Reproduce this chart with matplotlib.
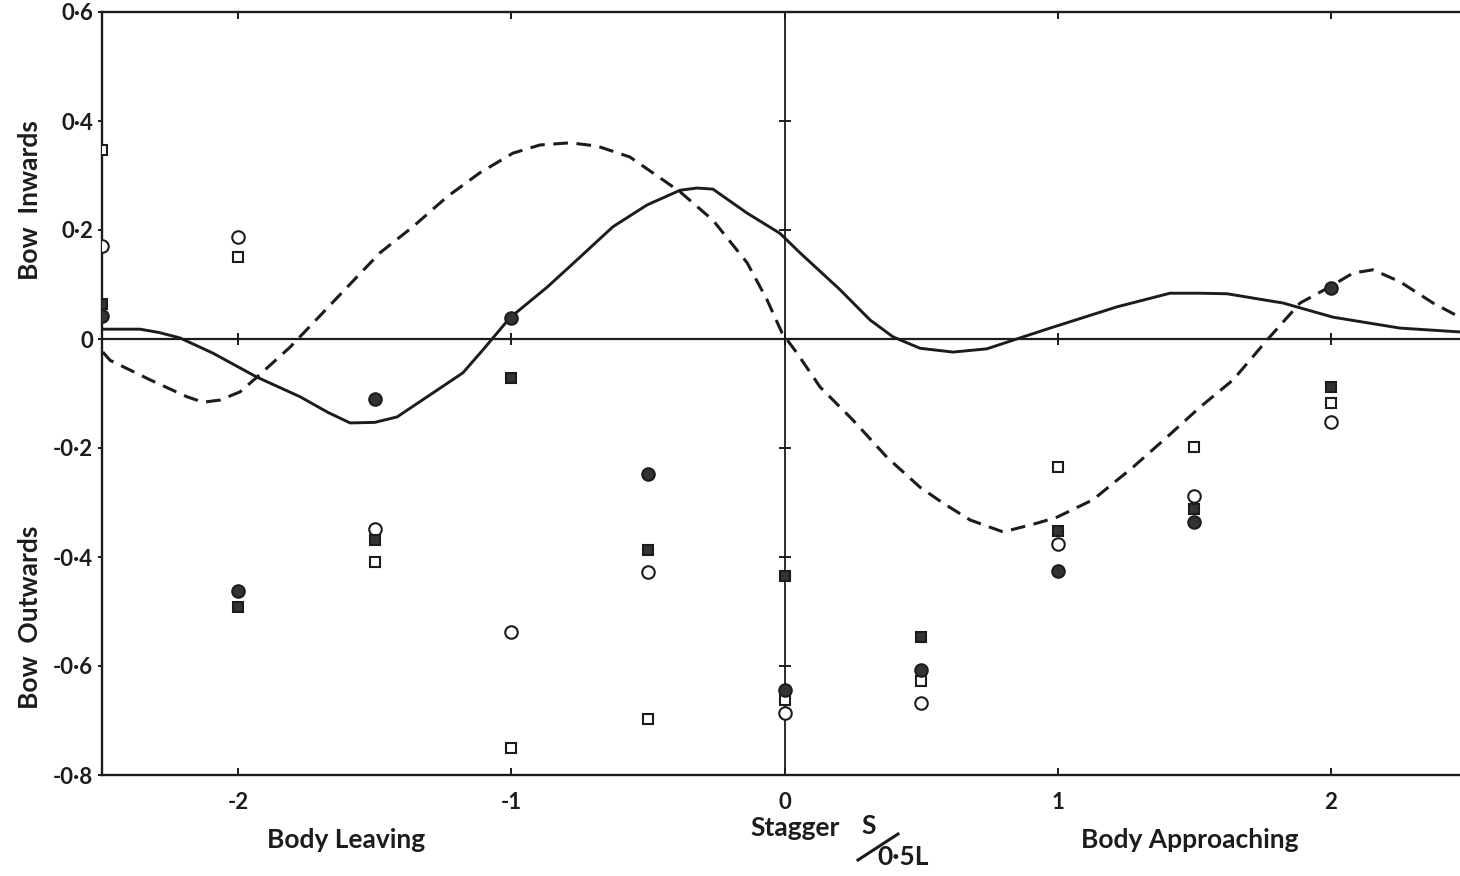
import matplotlib.pyplot as plt
import numpy as np
from matplotlib.lines import Line2D

plt.rcParams["font.family"] = ["Lato", "DejaVu Sans"]

# stagger positions S/0.5L where the measurements were taken
stagger = [-2.5, -2.0, -1.5, -1.0, -0.5, 0.0, 0.5, 1.0, 1.5, 2.0]

# measured points, one list per symbol
open_circle = [0.171, 0.187, -0.349, -0.538, -0.428, -0.686, -0.668, -0.376, -0.288, -0.152]
open_square = [0.347, 0.150, -0.409, -0.750, -0.697, -0.662, -0.628, -0.235, -0.198, -0.117]
full_circle = [0.042, -0.462, -0.110, 0.039, -0.248, -0.644, -0.607, -0.426, -0.336, 0.094]
full_square = [0.064, -0.492, -0.369, -0.072, -0.387, -0.435, -0.547, -0.352, -0.312, -0.088]

# theory curve (solid)
solid_x = [-2.495, -2.359, -2.290, -2.213, -2.092, -1.931, -1.773, -1.670, -1.590,
           -1.500, -1.418, -1.287, -1.177, -1.104, -1.005, -0.869, -0.749, -0.628,
           -0.503, -0.382, -0.320, -0.262, -0.137, -0.017, 0.057, 0.200, 0.313,
           0.397, 0.496, 0.617, 0.741, 0.862, 0.972, 1.217, 1.411, 1.521, 1.620,
           1.825, 2.008, 2.253, 2.472]
solid_y = [0.018, 0.018, 0.012, 0.002, -0.026, -0.070, -0.106, -0.135, -0.154,
           -0.153, -0.143, -0.099, -0.062, -0.020, 0.039, 0.095, 0.150, 0.206,
           0.246, 0.273, 0.277, 0.275, 0.231, 0.194, 0.158, 0.092, 0.035,
           0.004, -0.017, -0.024, -0.018, 0.002, 0.020, 0.059, 0.084, 0.084, 0.083,
           0.066, 0.040, 0.020, 0.013]

# theory curve (dashed)
dash_x = [-2.495, -2.469, -2.322, -2.187, -2.128, -2.066, -1.993, -1.931, -1.810,
          -1.726, -1.601, -1.481, -1.360, -1.235, -1.115, -0.994, -0.895, -0.785,
          -0.686, -0.566, -0.445, -0.382, -0.262, -0.137, -0.064, -0.009, 0.046,
          0.130, 0.251, 0.375, 0.496, 0.580, 0.679, 0.800, 0.924, 0.997, 1.129,
          1.276, 1.400, 1.521, 1.642, 1.766, 1.887, 1.990, 2.081, 2.154, 2.253,
          2.374, 2.472]
dash_y = [-0.024, -0.039, -0.075, -0.106, -0.116, -0.112, -0.097, -0.070, -0.015,
          0.029, 0.095, 0.158, 0.206, 0.261, 0.305, 0.341, 0.356, 0.360,
          0.354, 0.334, 0.292, 0.270, 0.218, 0.140, 0.072, 0.011, -0.026,
          -0.088, -0.149, -0.217, -0.272, -0.301, -0.332, -0.354, -0.338, -0.327, -0.295,
          -0.235, -0.180, -0.125, -0.075, -0.002, 0.066, 0.094, 0.121, 0.127, 0.105,
          0.066, 0.040]

xticks = [-2, -1, 0, 1, 2]
xtick_labels = ["-2", "-1", "0", "1", "2"]
yticks = [-0.8, -0.6, -0.4, -0.2, 0.0, 0.2, 0.4, 0.6]
ytick_labels = ["-0·8", "-0·6", "-0·4", "-0·2", "0", "0·2", "0·4", "0·6"]

ink = "#1c1c1c"
W, H = 1460, 876
fig = plt.figure(figsize=(W / 100, H / 100), dpi=100)
ax = fig.add_axes([101.5 / W, 101 / H, (W - 101.5) / W, 763 / H])
ax.set_xlim(-2.5, 2.4725)
ax.set_ylim(-0.8, 0.6)

for side in ["left", "bottom", "top"]:
    ax.spines[side].set_linewidth(1.7)
    ax.spines[side].set_color(ink)
ax.spines["right"].set_visible(False)

# zero lines through the plot, with their own little tick crosses
ax.axhline(0, color=ink, lw=1.6, zorder=1)
ax.axvline(0, color=ink, lw=1.3, zorder=1)
ax.plot(xticks, np.zeros(len(xticks)), ls="none", marker="|", ms=9, mew=1.4, color=ink)
ax.plot(np.zeros(len(yticks)), yticks, ls="none", marker="_", ms=9, mew=1.4, color=ink)

ax.plot(solid_x, solid_y, color=ink, lw=2.1, zorder=2,
        solid_joinstyle="round", solid_capstyle="round")
dl, = ax.plot(dash_x, dash_y, color=ink, lw=2.2, zorder=2)
dl.set_dashes([4.8, 2.8])

mk = dict(ls="none", color=ink, zorder=3, mew=1.5)
ax.plot(stagger, open_circle, marker="o", ms=9, mfc="white", **mk)
ax.plot(stagger, open_square, marker="s", ms=7.5, mfc="white", **mk)
ax.plot(stagger, full_circle, marker="o", ms=9, mfc="#333333", **mk)
ax.plot(stagger, full_square, marker="s", ms=7.5, mfc="#333333", **mk)

ax.set_xticks(xticks)
ax.set_xticklabels(xtick_labels)
ax.set_yticks(yticks)
ax.set_yticklabels(ytick_labels)
ax.tick_params(axis="x", direction="in", length=5, width=1.4, pad=12,
               labelsize=16, top=True, colors=ink)
ax.tick_params(axis="y", direction="out", length=3, width=1.4, pad=3,
               labelsize=16, colors=ink)
for lab in ax.get_xticklabels() + ax.get_yticklabels():
    lab.set_fontweight("bold")

txt = dict(fontsize=19, fontweight="bold", color=ink)
fig.text(30 / W, 1 - 200 / H, "Bow  Inwards", rotation=90, ha="center", va="center", **txt)
fig.text(30 / W, 1 - 617 / H, "Bow  Outwards", rotation=90, ha="center", va="center", **txt)
fig.text(346 / W, 1 - 840 / H, "Body Leaving", ha="center", va="center", **txt)
fig.text(1190 / W, 1 - 840 / H, "Body Approaching", ha="center", va="center", **txt)
fig.text(795 / W, 1 - 828 / H, "Stagger", ha="center", va="center", **txt)
fig.text(869 / W, 1 - 826 / H, "S", ha="center", va="center", **txt)
fig.text(903 / W, 1 - 857 / H, "0·5L", ha="center", va="center", **txt)
fig.add_artist(Line2D([858 / W, 898 / W], [1 - 860 / H, 1 - 834 / H],
                      transform=fig.transFigure, color=ink, lw=2.2))

fig.savefig("out.png", dpi=100, facecolor="white")
